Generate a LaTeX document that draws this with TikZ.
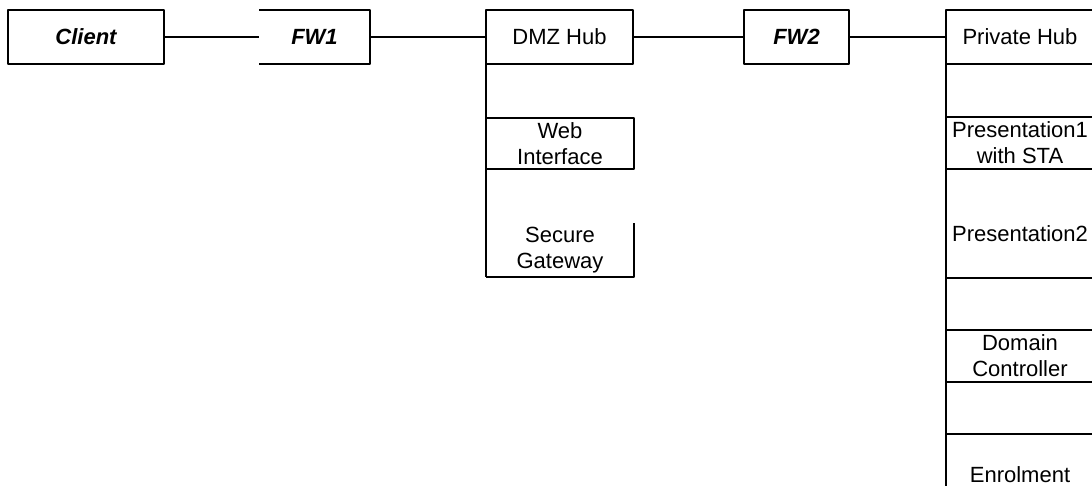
\documentclass[tikz,border=0pt]{standalone}
\usepackage{fontspec}
\setmainfont{Liberation Sans}
\tikzset{
  box/.style={minimum width=148, minimum height=53, inner sep=0pt, outer sep=0pt, align=center},
  fwtext/.style={font=\fontsize{22}{26}\selectfont\bfseries\itshape},
}
\begin{document}
\begin{tikzpicture}[x=1pt,y=-1pt,line width=2pt,line join=round,font=\fontsize{22}{26}\selectfont]
\useasboundingbox (0,0) rectangle (1092,485);
\clip (0,0) rectangle (1092,485);
% top row
\node[box,draw,minimum width=156,minimum height=54,fwtext] (client) at (86,37) {Client};
\node[box,minimum width=111,minimum height=54,fwtext] (fw1) at (314.5,37) {FW1};
\node[box,draw,minimum width=147,minimum height=54] (dmz) at (559.5,37) {DMZ Hub};
\node[box,draw,minimum width=105,minimum height=54,fwtext] (fw2) at (796.5,37) {FW2};
\node[box,draw,minimum height=54] (priv) at (1020,37) {Private Hub};
\draw (fw1.south west) -- (fw1.south east) -- (fw1.north east) -- (fw1.north west);
\draw (client.east) -- (fw1.west);
\draw (fw1.east) -- (dmz.west);
\draw (dmz.east) -- (fw2.west);
\draw (fw2.east) -- (priv.west);
% DMZ column
\node[box,draw,minimum height=51] (web) at (560,143.5) {Web\\Interface};
\node[box,minimum height=54] (gw) at (560,250) {Secure\\Gateway};
\draw (gw.north east) -- (gw.south east) -- (gw.south west);
\draw (dmz.south west) -- (gw.south west);
% private column
\node[box,draw,minimum height=52] (pres1) at (1020,143) {Presentation1\\with STA};
\node[box,minimum height=56] (pres2) at (1020,250) {Presentation2\\\strut};
\draw (pres2.north east) -- (pres2.south east) -- (pres2.south west);
\node[box,draw,minimum height=52] (dc) at (1020,356) {Domain\\Controller};
\node[box,draw] (enrol) at (1020,460.5) {\strut\\Enrolment};
\draw (priv.south west) -- (enrol.south west);
\end{tikzpicture}
\end{document}
